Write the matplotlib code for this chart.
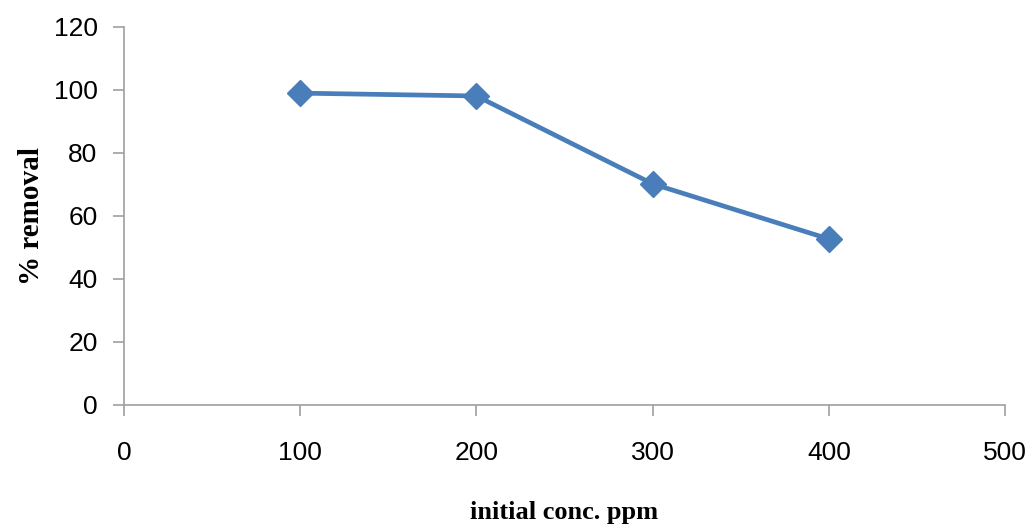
import numpy as np
import matplotlib.pyplot as plt

conc = [100, 200, 300, 400]
removal = [99.0, 98.1, 70.2, 52.7]
x_ticks = [0, 100, 200, 300, 400, 500]
y_ticks = [0, 20, 40, 60, 80, 100, 120]

fig = plt.figure(figsize=(10.33, 5.25), dpi=100)
ax = fig.add_axes([0.120, 0.2286, 0.853, 0.72])

ax.plot(conc, removal, color='#4a7ebb', linewidth=3.4, marker='D', markersize=13,
        markeredgecolor='#4a7ebb', markerfacecolor='#4a7ebb')

ax.set_xlim(0, 500)
ax.set_ylim(0, 120)
ax.set_xticks(x_ticks)
ax.set_yticks(y_ticks)

for s in ['top', 'right']:
    ax.spines[s].set_visible(False)
for s in ['left', 'bottom']:
    ax.spines[s].set_color('#a0a0a0')
    ax.spines[s].set_linewidth(1.2)

ax.tick_params(axis='both', direction='out', length=8, width=1.2, color='#a0a0a0',
               labelsize=19)
ax.tick_params(axis='x', pad=18)
ax.tick_params(axis='y', pad=11)
for lbl in ax.get_xticklabels() + ax.get_yticklabels():
    lbl.set_fontfamily('Liberation Sans')

ax.set_xlabel('initial conc. ppm', fontfamily='Liberation Serif', fontweight='bold',
              fontsize=19, labelpad=26)
ax.set_ylabel('% removal', fontfamily='Liberation Serif', fontweight='bold',
              fontsize=21, labelpad=6)

fig.savefig('out.png', dpi=100)
